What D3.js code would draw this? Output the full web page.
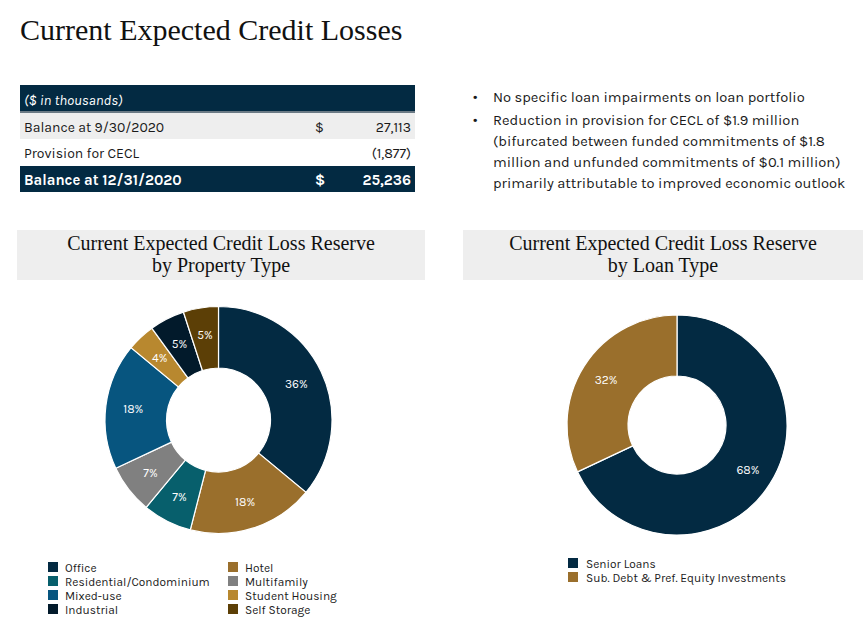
<!DOCTYPE html>
<html><head><meta charset="utf-8">
<script src="https://cdn.jsdelivr.net/npm/d3@7"></script>
<style>body{margin:0;background:#fff;}svg{display:block;}</style>
</head><body>
<svg id="c" width="863" height="621"></svg>
<script>
const propertyTypes = ["Office","Hotel","Residential/Condominium","Multifamily","Mixed-use","Student Housing","Industrial","Self Storage"];
const propertyValues = [36,18,7,7,18,4,5,5];
const propertyColors = ["#032a42","#9a6f2c","#075f6c","#808080","#07557f","#b8882f","#021a2b","#5c3f06"];
const legendOrder = ["Office","Hotel","Residential/Condominium","Multifamily","Mixed-use","Student Housing","Industrial","Self Storage"];
const loanTypes = ["Senior Loans","Sub. Debt & Pref. Equity Investments"];
const loanValues = [68,32];
const loanColors = ["#032a42","#9a6f2c"];
const tableLabels = ["Balance at 9/30/2020","Provision for CECL","Balance at 12/31/2020"];
const tableDollar = ["$","","$"];
const tableValues = ["27,113","(1,877)","25,236"];
const bullets = [["No specific loan impairments on loan portfolio"],
 ["Reduction in provision for CECL of $1.9 million","(bifurcated between funded commitments of $1.8","million and unfunded commitments of $0.1 million)","primarily attributable to improved economic outlook"]];

const svg = d3.select("#c");
const sans = "Karla, 'Noto Sans', Lato, sans-serif";
const serif = "'Liberation Serif', 'Times New Roman', serif";
const navy = "#032a42";

svg.append("text").attr("x",20).attr("y",40).attr("font-family",serif).attr("font-size",30).attr("fill","#111").text("Current Expected Credit Losses");

// table
const tx=20, tw=395;
svg.append("rect").attr("x",tx).attr("y",85).attr("width",tw).attr("height",27).attr("fill",navy);
svg.append("rect").attr("x",tx).attr("y",111).attr("width",tw).attr("height",2).attr("fill","#6b7a85");
svg.append("text").attr("x",24).attr("y",105).attr("font-family",sans).attr("font-style","italic").attr("font-size",14.3).attr("fill","#fff").text("($ in thousands)");
const rowY=[113,139,166], rowH=[26,27,26];
const rowFill=["#eeeeee","#ffffff",navy];
tableLabels.forEach((l,i)=>{
  const y=rowY[i];
  svg.append("rect").attr("x",tx).attr("y",y).attr("width",tw).attr("height",rowH[i]).attr("fill",rowFill[i]);
  const col = i===2?"#fff":"#1a1a1a", fw=i===2?"bold":"normal", fs=i===2?14.8:14;
  svg.append("text").attr("x",24).attr("y",y+18.5).attr("font-family",sans).attr("font-size",fs).attr("font-weight",fw).attr("fill",col).text(l);
  svg.append("text").attr("x",315).attr("y",y+18.5).attr("font-family",sans).attr("font-size",fs).attr("font-weight",fw).attr("fill",col).text(tableDollar[i]);
  svg.append("text").attr("x",411).attr("y",y+18.5).attr("text-anchor","end").attr("font-family",sans).attr("font-size",fs).attr("font-weight",fw).attr("fill",col).text(tableValues[i]);
});

// bullets
let by=102;
bullets.forEach(b=>{
  svg.append("text").attr("x",473).attr("y",by).attr("font-family",sans).attr("font-size",16).attr("fill","#1a1a1a").text("•");
  b.forEach(line=>{
    svg.append("text").attr("x",493).attr("y",by).attr("font-family",sans).attr("font-size",14.7).attr("fill","#1a1a1a").text(line);
    by+=21;
  });
  by+=2;
});

// subtitle boxes
function titleBox(x,w,lines){
  svg.append("rect").attr("x",x).attr("y",230).attr("width",w).attr("height",50).attr("fill","#eeeeee");
  lines.forEach((t,i)=>svg.append("text").attr("x",x+w/2).attr("y",250+i*22).attr("text-anchor","middle").attr("font-family",serif).attr("font-size",20).attr("fill","#111").text(t));
}
titleBox(17,408,["Current Expected Credit Loss Reserve","by Property Type"]);
titleBox(463,400,["Current Expected Credit Loss Reserve","by Loan Type"]);

function donut(cx,cy,ro,ri,labels,values,colors,lr){
  const pie=d3.pie().sort(null).value(d=>d)(values);
  const arc=d3.arc().innerRadius(ri).outerRadius(ro);
  const la=d3.arc().innerRadius(lr).outerRadius(lr);
  const g=svg.append("g").attr("transform",`translate(${cx},${cy})`);
  g.selectAll("path").data(pie).join("path").attr("d",arc).attr("fill",(d,i)=>colors[i]).attr("stroke","#fff").attr("stroke-width",1.2);
  g.selectAll("text").data(pie).join("text").attr("transform",d=>`translate(${la.centroid(d)})`)
   .attr("text-anchor","middle").attr("dy","0.35em").attr("font-family",sans).attr("font-size",12).attr("fill","#fff")
   .text(d=>d.value+"%");
}
donut(218.5,420,113.5,52,propertyTypes,propertyValues,propertyColors,86);
donut(677,425,110,49,loanTypes,loanValues,loanColors,84);

// legends
const colColor = n=>propertyColors[propertyTypes.indexOf(n)];
legendOrder.forEach((n,i)=>{
  const col=i%2, row=Math.floor(i/2);
  const x= col===0?48:228, y=562+row*14;
  svg.append("rect").attr("x",x).attr("y",y).attr("width",10).attr("height",10).attr("fill",colColor(n));
  svg.append("text").attr("x",x+17).attr("y",y+9.5).attr("font-family",sans).attr("font-size",11.9).attr("fill","#1a1a1a").text(n);
});
loanTypes.forEach((n,i)=>{
  const y=558+i*14;
  svg.append("rect").attr("x",568).attr("y",y).attr("width",10).attr("height",10).attr("fill",loanColors[i]);
  svg.append("text").attr("x",586).attr("y",y+9.5).attr("font-family",sans).attr("font-size",11.9).attr("fill","#1a1a1a").text(n);
});
</script>
</body></html>
